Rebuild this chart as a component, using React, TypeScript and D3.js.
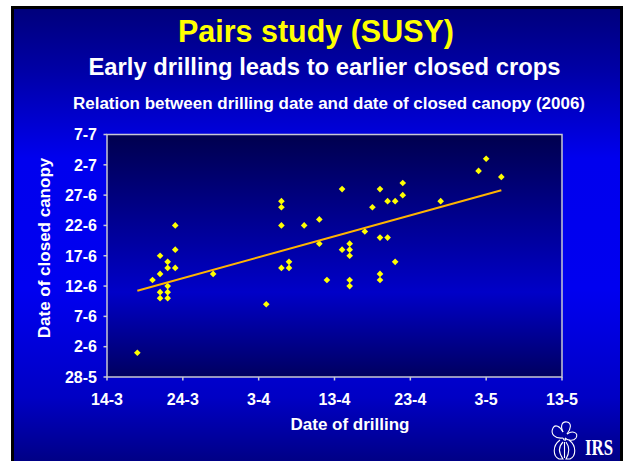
import React from "react";
import * as d3 from "d3";

const drillingDates = [
  "18-3", "20-3", "21-3", "21-3", "21-3", "21-3", "22-3", "22-3", "22-3", "22-3",
  "22-3", "23-3", "23-3", "23-3", "28-3", "4-4", "6-4", "6-4", "6-4", "6-4",
  "7-4", "7-4", "9-4", "11-4", "11-4", "12-4", "14-4", "14-4", "15-4", "15-4",
  "15-4", "15-4", "15-4", "17-4", "18-4", "19-4", "19-4", "19-4", "19-4", "20-4",
  "20-4", "21-4", "21-4", "22-4", "22-4", "27-4", "2-5", "3-5", "5-5",
];
const canopyDates = [
  "1-6", "13-6", "17-6", "14-6", "11-6", "10-6", "16-6", "15-6", "12-6", "11-6",
  "10-6", "22-6", "18-6", "15-6", "14-6", "9-6", "26-6", "25-6", "22-6", "15-6",
  "16-6", "15-6", "22-6", "23-6", "19-6", "13-6", "28-6", "18-6", "19-6", "18-6",
  "17-6", "13-6", "12-6", "21-6", "25-6", "28-6", "20-6", "14-6", "13-6", "26-6",
  "20-6", "26-6", "16-6", "29-6", "27-6", "26-6", "1-7", "3-7", "30-6",
];
const xTickLabels = ["14-3", "24-3", "3-4", "13-4", "23-4", "3-5", "13-5"];
const yTickLabels = ["28-5", "2-6", "7-6", "12-6", "17-6", "22-6", "27-6", "2-7", "7-7"];

const YEAR = "2006";
const parse = d3.utcParse("%d-%m-%Y");
const toDate = (s: string) => parse(`${s}-${YEAR}`) as Date;

const FONT = "'Liberation Sans', Arial, sans-serif";

export default function App() {
  const W = 626;
  const H = 461;
  const plot = { left: 107, right: 562, top: 134.5, bottom: 377 };

  const xTicks = xTickLabels.map(toDate);
  const yTicks = yTickLabels.map(toDate);

  const x = d3
    .scaleUtc()
    .domain([xTicks[0], xTicks[xTicks.length - 1]])
    .range([plot.left, plot.right]);
  const y = d3
    .scaleUtc()
    .domain([yTicks[0], yTicks[yTicks.length - 1]])
    .range([plot.bottom, plot.top]);

  const pts = drillingDates.map((d, i) => ({ x: toDate(d), y: toDate(canopyDates[i]) }));

  // linear regression (trend line)
  const xs = pts.map((p) => +p.x);
  const ys = pts.map((p) => +p.y);
  const mx = d3.mean(xs) as number;
  const my = d3.mean(ys) as number;
  let sxy = 0;
  let sxx = 0;
  xs.forEach((v, i) => {
    sxy += (v - mx) * (ys[i] - my);
    sxx += (v - mx) * (v - mx);
  });
  const slope = sxy / sxx;
  const intercept = my - slope * mx;
  const [xmin, xmax] = d3.extent(xs) as [number, number];
  const trend = [xmin, xmax].map((v) => [x(new Date(v)), y(new Date(intercept + slope * v))] as [number, number]);
  const lineGen = d3.line();

  const marker = d3.symbol().type(d3.symbolSquare).size(22)() as string;

  return (
    <svg
      width={W}
      height={H}
      style={{ position: "absolute", left: 0, top: 0, background: "#ffffff" }}
    >
      <defs>
        <linearGradient id="bg" gradientUnits="userSpaceOnUse" x1="0" y1="9" x2="0" y2="461">
          <stop offset="0" stopColor="#00007c" />
          <stop offset="0.13" stopColor="#0000a4" />
          <stop offset="0.33" stopColor="#0000ee" />
          <stop offset="0.62" stopColor="#0000f0" />
          <stop offset="0.86" stopColor="#0000c4" />
          <stop offset="1" stopColor="#000086" />
        </linearGradient>
        <linearGradient id="plotbg" x1="0" y1="0" x2="0" y2="1">
          <stop offset="0" stopColor="#00004e" />
          <stop offset="0.65" stopColor="#0000c8" />
          <stop offset="1" stopColor="#000060" />
        </linearGradient>
      </defs>

      <rect x={11} y={6} width={612} height={H} fill="#000000" />
      <rect x={14} y={9} width={606} height={H} fill="url(#bg)" />

      <text x={316} y={42} textAnchor="middle" fill="#ffff00" fontFamily={FONT} fontWeight="bold" fontSize={31} textLength={276} lengthAdjust="spacingAndGlyphs">
        Pairs study (SUSY)
      </text>
      <text x={324.5} y={75} textAnchor="middle" fill="#ffffff" fontFamily={FONT} fontWeight="bold" fontSize={24} textLength={472} lengthAdjust="spacingAndGlyphs">
        Early drilling leads to earlier closed crops
      </text>
      <text x={329} y={109} textAnchor="middle" fill="#ffffff" fontFamily={FONT} fontWeight="bold" fontSize={16} textLength={512} lengthAdjust="spacingAndGlyphs">
        Relation between drilling date and date of closed canopy (2006)
      </text>

      <rect
        x={plot.left}
        y={plot.top}
        width={plot.right - plot.left}
        height={plot.bottom - plot.top}
        fill="url(#plotbg)"
        stroke="#c8c8d4"
        strokeWidth={1.5}
      />

      {yTicks.map((t, i) => (
        <g key={`y${i}`}>
          <line x1={plot.left - 3.5} x2={plot.left} y1={y(t)} y2={y(t)} stroke="#c8c8d4" strokeWidth={1.5} />
          <text x={97} y={y(t)} dy="0.36em" textAnchor="end" fill="#ffffff" fontFamily={FONT} fontWeight="bold" fontSize={16}>
            {yTickLabels[i]}
          </text>
        </g>
      ))}
      {xTicks.map((t, i) => (
        <g key={`x${i}`}>
          <line x1={x(t)} x2={x(t)} y1={plot.bottom} y2={plot.bottom + 3.5} stroke="#c8c8d4" strokeWidth={1.5} />
          <text x={x(t)} y={405} textAnchor="middle" fill="#ffffff" fontFamily={FONT} fontWeight="bold" fontSize={16}>
            {xTickLabels[i]}
          </text>
        </g>
      ))}

      <text x={350} y={430} textAnchor="middle" fill="#ffffff" fontFamily={FONT} fontWeight="bold" fontSize={17}>
        Date of drilling
      </text>
      <text
        transform="translate(43.5,248) rotate(-90)"
        dy="0.36em"
        textAnchor="middle"
        fill="#ffffff"
        fontFamily={FONT}
        fontWeight="bold"
        fontSize={17}
      >
        Date of closed canopy
      </text>

      {pts.map((p, i) => (
        <path
          key={`p${i}`}
          d={marker}
          transform={`translate(${x(p.x)},${y(p.y)}) rotate(45)`}
          fill="#ffff00"
        />
      ))}

      <path d={lineGen(trend) as string} fill="none" stroke="#ffb400" strokeWidth={2} />

      {/* IRS logo */}
      <g fill="none" stroke="#ffffff" strokeWidth={1.1}>
        <path d="M563,438 C555,439 550,434 553,428 C555,424 560,426 563,432" />
        <path d="M563,432 C560,426 562,421 567,422 C572,423 571,429 567,434" />
        <path d="M567,434 C573,430 579,433 576,438 C573,442 567,440 565,438" />
        <path d="M563,438 C564,441 567,441 565,438" />
        <path d="M560,440 C552,446 553,456 559,459 L563,459 C558,452 559,446 563,442" />
        <path d="M569,440 C577,446 576,456 570,459 L566,459 C570,452 569,446 566,442" />
        <path d="M564.5,442 L564.5,458" />
      </g>
      <text x={585} y={455} fill="#ffffff" fontFamily="'Liberation Serif', 'Times New Roman', serif" fontWeight="bold" fontSize={23} textLength={28} lengthAdjust="spacingAndGlyphs">
        IRS
      </text>
    </svg>
  );
}
